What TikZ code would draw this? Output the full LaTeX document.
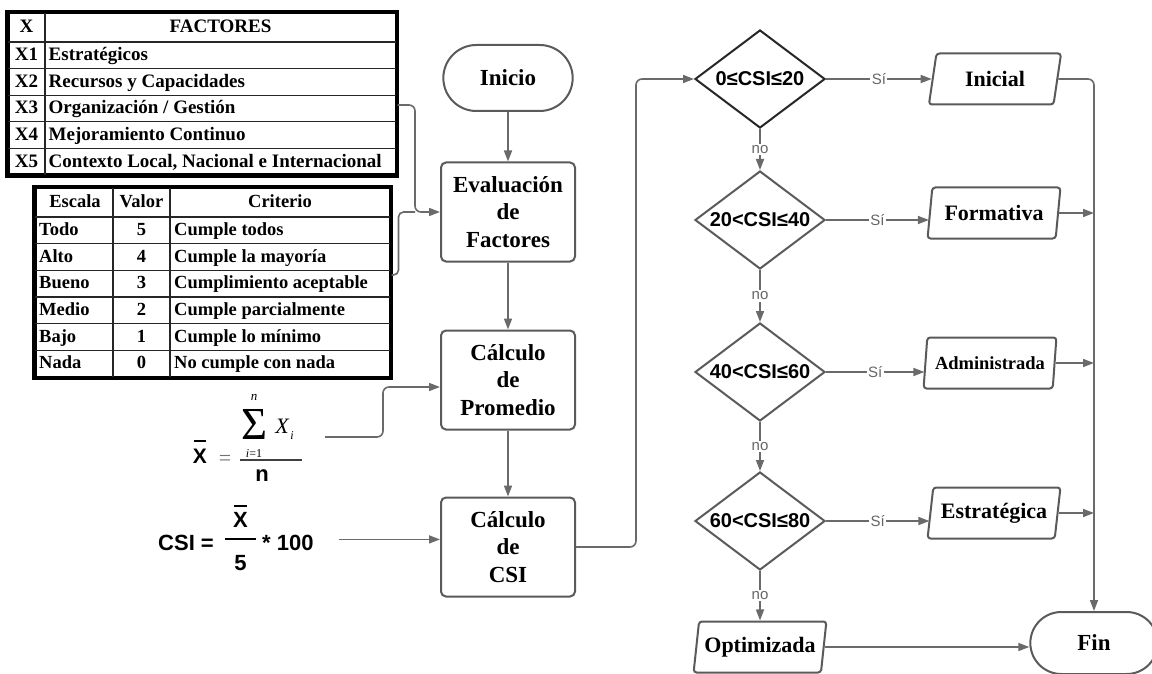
\documentclass[tikz,border=0pt]{standalone}
\usepackage{fontspec}
\setmainfont{Liberation Serif}
\newfontfamily\arialf{Liberation Sans}
\usetikzlibrary{shapes.geometric,shapes.misc,arrows.meta,calc}

\definecolor{boxg}{HTML}{5A5A5A}
\definecolor{lineg}{HTML}{6A6A6A}

\begin{document}
\begin{tikzpicture}[x=1pt,y=-1pt,
  line/.style={draw=lineg, line width=1.6pt},
  arr/.style={line, -{Triangle[length=11pt,width=8pt]}},
  proc/.style={draw=boxg, line width=2pt, rounded corners=5pt, fill=white,
    minimum width=134pt, minimum height=99pt, align=center,
    font=\fontsize{23}{27.5}\selectfont\bfseries},
  term/.style={draw=boxg, line width=2pt, rounded rectangle, fill=white,
    minimum width=136pt, minimum height=66pt,
    font=\fontsize{23}{27}\selectfont\bfseries},
  dec/.style={diamond, aspect=1.4, draw=boxg, line width=2pt, fill=white, inner sep=0pt,
    minimum width=130pt, minimum height=98pt,
    font=\arialf\fontsize{20}{24}\selectfont\bfseries},
  io/.style={trapezium, trapezium left angle=76, trapezium right angle=104,
    trapezium stretches=true, draw=boxg, line width=2pt, rounded corners=3pt,
    fill=white, minimum width=133pt, minimum height=51pt, inner sep=0pt,
    font=\fontsize{22}{26}\selectfont\bfseries},
  lbl/.style={fill=white, text=black!60, inner sep=1.5pt,
    font=\arialf\fontsize{15}{17}\selectfont},
  tbl/.style={draw=black, line width=3pt, fill=white, inner sep=0pt},
  grid/.style={draw=black!85, line width=1.1pt},
  cell/.style={inner sep=0pt, text height=14pt, text depth=3pt,
    font=\fontsize{19}{22}\selectfont\bfseries},
  cellb/.style={inner sep=0pt, text height=13.5pt, text depth=3pt,
    font=\fontsize{18.5}{22}\selectfont\bfseries},
  ftxt/.style={inner sep=0pt, anchor=base},
  fsans/.style={ftxt, font=\arialf\bfseries\fontsize{22}{24}\selectfont},
  fbar/.style={draw=black, line width=1.8pt}
]
\useasboundingbox[fill=white] (0,0) rectangle (1152,674);

% ---- factor table ----
\node[tbl, minimum width=388pt, minimum height=162pt] (fact) at (202,94) {};
\draw[grid] (45,13) -- (45,175);
\foreach \y in {42,68.6,95.2,121.8,148.4} \draw[grid] (8,\y) -- (396,\y);
\node[cell] (facth1) at (26.5,27.5) {X};
\node[cell] (facth2) at (220.5,27.5) {FACTORES};
\foreach \id/\txt [count=\k] in {X1/{Estratégicos}, X2/{Recursos y Capacidades},
    X3/{Organización / Gestión}, X4/{Mejoramiento Continuo},
    X5/{Contexto Local, Nacional e Internacional}} {
  \node[cell] (factid\k) at (26.5,{42+26.6*(\k-0.5)}) {\id};
  \node[cell, anchor=west] (facttx\k) at (48.5,{42+26.6*(\k-0.5)}) {\txt};
}
\draw[draw=black, line width=3pt] (fact.north west) rectangle (fact.south east);

% ---- scale table ----
\node[tbl, minimum width=355pt, minimum height=189pt] (esc) at (212.5,282.5) {};
\draw[grid] (113,188) -- (113,377);
\draw[grid] (170,188) -- (170,377);
\foreach \y in {217,243.7,270.3,297,323.7,350.3} \draw[grid] (35,\y) -- (390,\y);
\node[cellb] (esch1) at (75,202.5) {Escala};
\node[cellb] (esch2) at (141.5,202.5) {Valor};
\node[cellb] (esch3) at (280,202.5) {Criterio};
\foreach \e/\v/\c [count=\k] in {Todo/5/Cumple todos, Alto/4/Cumple la mayoría,
    Bueno/3/Cumplimiento aceptable, Medio/2/Cumple parcialmente,
    Bajo/1/Cumple lo mínimo, Nada/0/No cumple con nada} {
  \node[cellb, anchor=west] (esce\k) at (39,{217+26.67*(\k-0.5)}) {\e};
  \node[cellb] (escv\k) at (141.5,{217+26.67*(\k-0.5)}) {\v};
  \node[cellb, anchor=west] (escc\k) at (174,{217+26.67*(\k-0.5)}) {\c};
}
\draw[draw=black, line width=3pt] (esc.north west) rectangle (esc.south east);

% ---- main column ----
\node[term] (inicio) at (508,78) {Inicio};
\node[proc] (eval) at (508,212) {Evaluación\\de\\Factores};
\node[proc] (prom) at (508,380) {Cálculo\\de\\Promedio};
\node[proc] (csi) at (508,547) {Cálculo\\de\\CSI};

% ---- mean formula ----
\node[fsans, font=\arialf\bfseries\fontsize{21}{24}\selectfont] (xb1) at (200,463) {X};
\draw[fbar] ($(xb1.north west)+(1.5,-7)$) -- ($(xb1.north east)+(-1.5,-7)$);
\node[ftxt, text=black!55, font=\fontsize{22}{24}\selectfont] (xbeq) at (225,465) {=};
\node[inner sep=0pt] (xbsig) at (254,424) {\resizebox{26pt}{30pt}{Σ}};
\node[ftxt, font=\itshape\fontsize{13}{14}\selectfont] (xbn) at (254,400) {n};
\node[ftxt, font=\fontsize{12}{13}\selectfont] (xbi) at (254,457) {\textit{i}=1};
\node[ftxt, font=\itshape\fontsize{22}{24}\selectfont] (xbX) at (282,433) {X};
\node[ftxt, font=\itshape\fontsize{12}{13}\selectfont] (xbsub) at (292,439) {i};
\draw[draw=black!75, line width=1.3pt] (240,460) -- (302,460);
\node[fsans] (xbden) at (262,481) {n};

% ---- CSI formula ----
\node[fsans, anchor=base west] (csiA) at (158,550) {CSI =};
\node[fsans] (csiX) at (240.5,527) {X};
\draw[fbar] ($(csiX.north west)+(1.5,-6)$) -- ($(csiX.north east)+(-1.5,-6)$);
\draw[draw=black, line width=2pt] (225,539) -- (256,539);
\node[fsans] (csi5) at (240.5,570) {5};
\node[fsans, anchor=base west] (csiB) at (262,550) {* 100};

% ---- decisions ----
\node[dec, draw=black!85] (d1) at (760,79) {0≤CSI≤20};
\node[dec] (d2) at (760,220) {20<CSI≤40};
\node[dec] (d3) at (760,372) {40<CSI≤60};
\node[dec] (d4) at (760,521) {60<CSI≤80};

% ---- results ----
\node[io] (ini) at (995,79) {Inicial};
\node[io] (form) at (994,213) {Formativa};
\node[io, font=\fontsize{18.5}{22}\selectfont\bfseries] (adm) at (990,363) {Administrada};
\node[io] (estr) at (994,513) {Estratégica};
\node[io] (opt) at (760,647) {Optimizada};
\node[term, minimum width=134pt, minimum height=62pt] (fin) at (1094,643) {Fin};

% ---- connectors ----
\draw[arr] (inicio) -- (eval);
\draw[arr] (eval) -- (prom);
\draw[arr] (prom) -- (csi);
\draw[arr, rounded corners=6pt] ($(fact.east)+(0,11)$) -| ($(eval.west)+(-25,0)$) -- (eval.west);
\draw[line, rounded corners=5pt] ($(esc.east)+(0,-7.5)$) -- ++(7,0) |- ($(eval.west)+(-25,0)$);
\coordinate (xbout) at (325,437);
\draw[arr, rounded corners=6pt] (xbout) -| ($(prom.west)+(-57,7)$) -- ($(prom.west)+(0,7)$);
\coordinate (csiout) at ($(csiB.east)+(25,-3)$);
\draw[arr] (csiout) -- (csiout -| csi.west);
\draw[arr, rounded corners=6pt] (csi.east) -| ($(d1.west)+(-58,0)$) -- (d1.west);

\draw[arr] (d1.south) -- node[lbl] {no} (d2.north);
\draw[arr] (d2.south) -- node[lbl] {no} (d3.north);
\draw[arr] (d3.south) -- node[lbl] {no} (d4.north);
\draw[arr] (d4.south) -- node[lbl] {no} (opt.north);

\draw[arr] (d1.east) -- node[lbl] {Sí} (d1.east -| ini.west);
\draw[arr] (d2.east) -- node[lbl] {Sí} (d2.east -| form.west);
\draw[arr] (d3.east) -- node[lbl] {Sí} (d3.east -| adm.west);
\draw[arr] (d4.east) -- node[lbl] {Sí} (d4.east -| estr.west);

\draw[arr, rounded corners=6pt] (ini.east) -| (fin.north);
\draw[arr] (form.east) -- (form.east -| fin.north);
\draw[arr] (adm.east) -- (adm.east -| fin.north);
\draw[arr] (estr.east) -- (estr.east -| fin.north);
\draw[arr] (opt.east) -- (opt.east -| fin.west);
\end{tikzpicture}
\end{document}
